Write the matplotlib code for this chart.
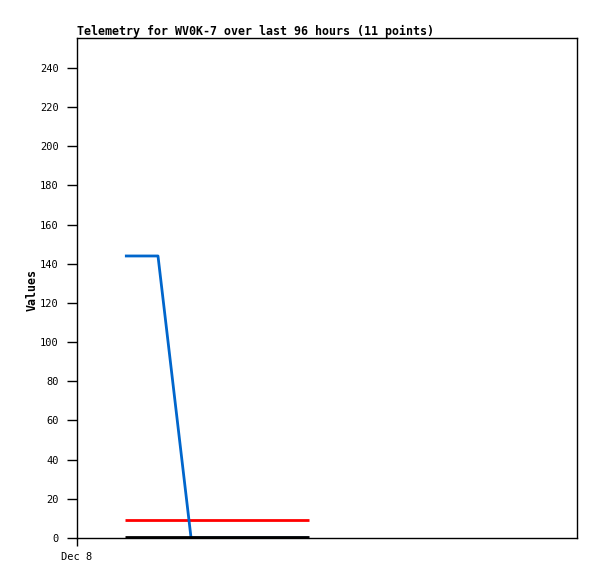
import matplotlib
matplotlib.use("Agg")
import matplotlib.pyplot as plt

# hours since Dec 8 00:00
times = [9.2, 12.4, 15.55, 21.9, 25.0, 28.5, 32.0, 35.0, 38.5, 41.5, 44.5]
blue_vals = [144, 144, 144, 0, 0, 0, 0, 0, 0, 0, 0]
red_vals = [9, 9, 9, 9, 9, 9, 9, 9, 9, 9, 9]
black_vals = [0.3] * 11
yticks = list(range(0, 241, 20))
xtick_labels = ["Dec 8"]
xtick_pos = [0]

fig = plt.figure(figsize=(5.97, 5.79), dpi=100)
ax = fig.add_axes([77/597, 1 - 538/579, 500/597, 500/579])
ax.plot(times, red_vals, color="#ff0000", lw=2, solid_capstyle="butt")
ax.plot(times, blue_vals, color="#0066cc", lw=2, solid_capstyle="butt")
ax.plot(times, black_vals, color="black", lw=2, solid_capstyle="butt")
ax.set_xlim(0, 96)
ax.set_ylim(0, 255.3)
ax.set_yticks(yticks)
ax.set_xticks(xtick_pos)
ax.set_xticklabels(xtick_labels)
mono = "DejaVu Sans Mono"
for lab in ax.get_yticklabels() + ax.get_xticklabels():
    lab.set_family(mono)
    lab.set_fontsize(7.5)
ax.tick_params(axis="y", length=7, width=1, pad=6)
ax.tick_params(axis="x", length=6, width=1, pad=4)
for s in ax.spines.values():
    s.set_linewidth(1)
ax.set_ylabel("Values", family=mono, fontsize=8.4, fontweight="bold")
ax.yaxis.set_label_coords(-0.077, 0.496)
ax.set_title("Telemetry for WV0K-7 over last 96 hours (11 points)", family=mono,
             fontsize=8.35, fontweight="bold", loc="left", pad=2)
fig.savefig("out.png", dpi=100)
